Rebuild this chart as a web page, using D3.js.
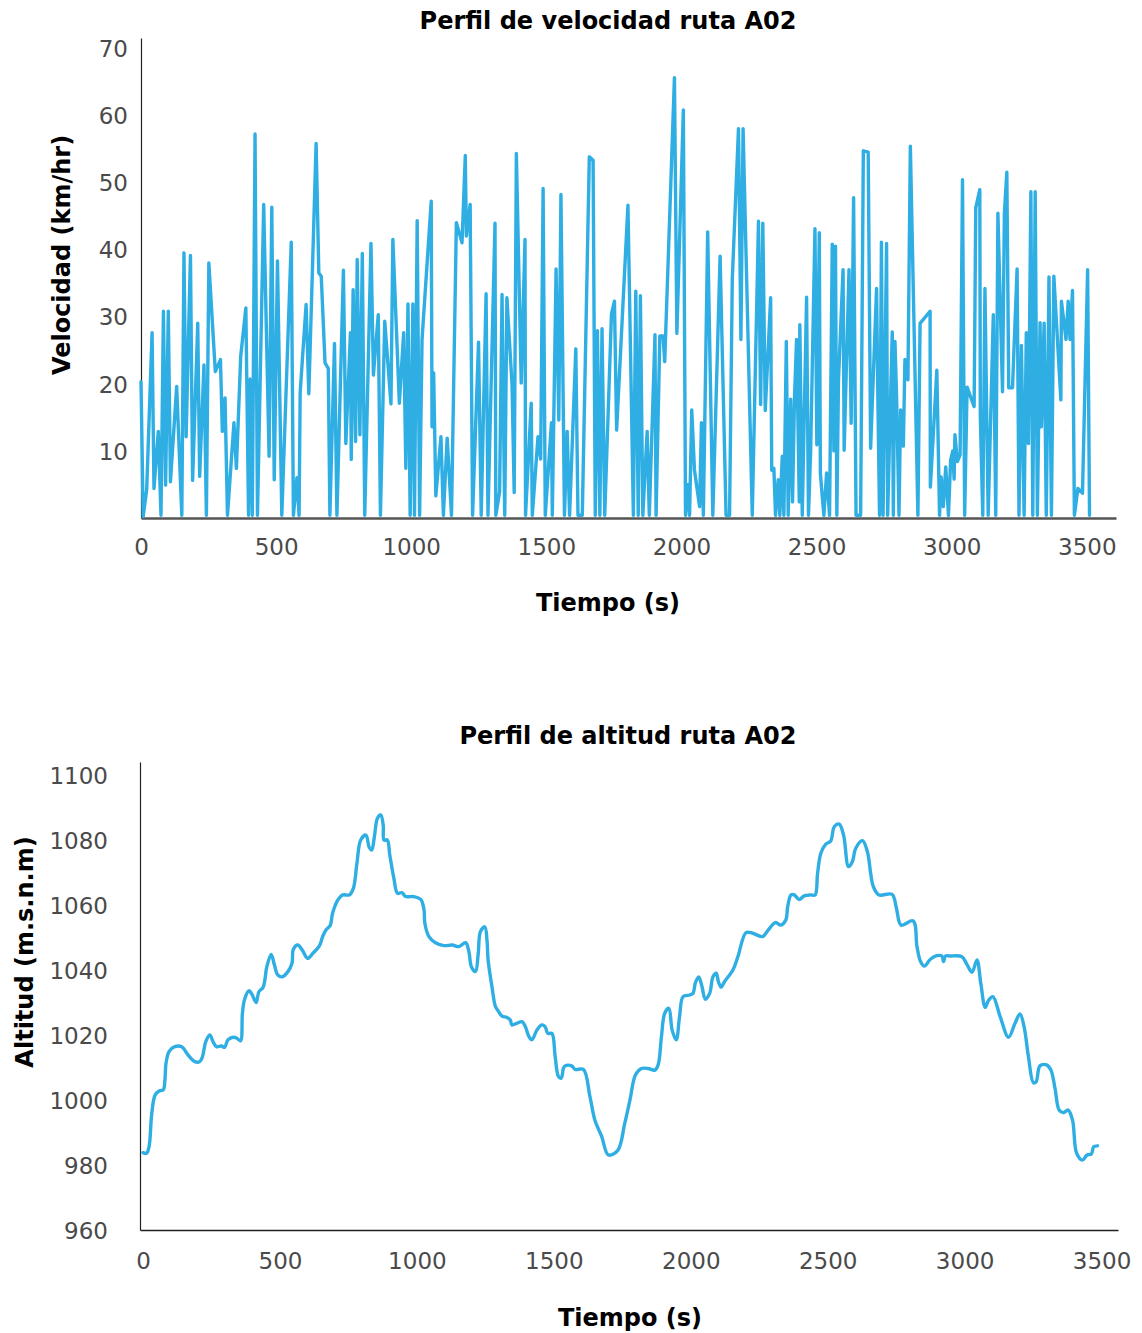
<!DOCTYPE html>
<html>
<head>
<meta charset="utf-8">
<script src="https://cdn.jsdelivr.net/npm/d3@7/dist/d3.min.js"></script>
<style>
  html, body { margin: 0; padding: 0; background: #ffffff; }
  svg { display: block; }
  text { font-family: "DejaVu Sans", "Open Sans", sans-serif; }
</style>
</head>
<body>
<svg id="chart" width="1142" height="1333"></svg>
<script>
// ---- Speed profile, route A02 ----
const speedTime = [0,8,21,41,48,64,74,83,91,101,109,132,151,159,167,183,191,210,217,233,242,251,275,294,301,311,320,344,353,369,388,398,404,412,422,431,454,474,484,493,505,521,556,564,577,585,589,611,621,648,658,667,681,693,699,716,725,749,758,775,778,785,794,800,810,819,828,851,860,878,886,902,925,932,956,972,980,988,996,1006,1012,1022,1031,1040,1074,1077,1083,1091,1110,1119,1133,1149,1167,1188,1200,1204,1218,1227,1249,1259,1277,1284,1310,1313,1327,1336,1346,1354,1373,1381,1389,1407,1421,1423,1444,1448,1469,1479,1488,1496,1519,1522,1536,1546,1554,1567,1577,1586,1609,1617,1633,1659,1673,1681,1689,1698,1706,1716,1741,1752,1760,1802,1822,1831,1840,1848,1857,1873,1881,1902,1906,1920,1932,1938,1974,1983,2007,2015,2024,2030,2038,2048,2067,2074,2081,2097,2116,2143,2165,2178,2188,2211,2220,2228,2262,2285,2293,2301,2310,2330,2334,2342,2348,2358,2364,2373,2379,2388,2395,2404,2411,2418,2426,2436,2438,2447,2463,2470,2478,2494,2501,2510,2514,2520,2527,2537,2548,2558,2564,2570,2575,2581,2598,2602,2620,2628,2637,2646,2663,2673,2691,2700,2722,2727,2733,2740,2746,2759,2763,2780,2784,2790,2796,2805,2811,2821,2827,2838,2847,2875,2883,2920,2921,2945,2955,2961,2969,2978,2988,2996,3004,3009,3012,3021,3031,3040,3048,3057,3083,3089,3104,3106,3115,3123,3135,3154,3163,3171,3188,3195,3204,3211,3225,3242,3249,3258,3268,3276,3284,3293,3300,3309,3317,3327,3332,3342,3350,3360,3369,3378,3404,3406,3423,3431,3438,3447,3454,3467,3484,3503,3510];
const speedKmh = [20.3,0.2,4.2,27.6,4.4,12.9,0.4,30.8,4.9,30.8,5.4,19.6,0.4,39.5,12.1,39.1,5.6,29,6.2,22.8,0.4,38,21.8,23.6,12.9,17.9,0.4,14.2,7.4,24.1,31.3,0.4,20.7,0.4,57.2,0.4,46.7,9.2,46.3,5.7,38.3,0.4,41.1,0.4,6,0.4,18.7,31.8,18.5,55.8,36.5,36,23.1,22.3,0.4,26,0.4,36.9,11.1,27.6,8.7,34,11.4,38.5,12.4,39.4,0.4,40.9,21.3,30.3,0.4,29.3,17,41.5,17.1,27.6,7.4,31.9,0.4,31.9,0.4,44.3,0.4,26.6,47.2,13.6,21.6,3.3,12.1,0.4,11.9,0.4,44,41,54,42,46.7,0.4,26.2,0.4,33.4,0.4,43.9,0.4,3.9,33.3,0.4,32.8,19.9,3.8,54.3,20.1,41.5,0.4,17.1,0.4,12.1,8.8,49.1,0.4,14.2,0.4,37.1,14.6,48.2,0.4,12.9,0.4,25.2,0.4,0.4,53.8,53.3,0.4,27.9,0.4,28.2,0.4,30.4,32.3,13.1,46.6,0.4,33.8,0.4,33.1,0.4,12.9,0.4,27.3,0.4,27.1,27.1,23.3,65.6,27.5,60.8,0.4,5,0.4,16.1,7.2,1.7,14.2,0.4,42.6,0.4,39,0.4,0.4,35.5,58,26.6,58,0.4,44.2,16.9,43.9,16,32.8,7.1,7.4,0.4,5.7,0.4,9.2,0.4,26.3,0.4,17.7,2.4,17.6,26.6,2.4,28.8,0.4,32.9,0.4,9.9,43.1,10.9,42.5,6.7,3.7,0.4,6.7,0.4,40.8,10,40.5,0.4,20.5,37,10.1,37,14.1,47.7,0.4,0.4,54.7,54.5,10.4,34.2,17.1,0.4,41.1,0.4,40.9,0.4,27.7,0.4,26.3,18.2,0.4,16.1,10.7,23.6,20.6,55.4,0.4,29,30.8,4.6,22,0.4,6.1,1.7,7.6,0.4,8.6,10,5.8,12.4,8.4,9.4,50.4,0.4,19.5,16.6,46.2,48.9,14.9,0.4,34.2,0.4,30.3,0.4,45.4,18.8,45.4,51.5,19.4,19.4,37.1,0.4,25.7,0.4,27.6,11.1,48.6,0.4,48.6,0.4,29.1,13.6,29,0.4,35.9,0.4,36,17.6,32.3,26.6,32.3,26.6,33.9,0.4,4.4,3.7,37,0.4];
const speedTicksY = [10, 20, 30, 40, 50, 60, 70];

// ---- Altitude profile, route A02 ----
const altTime = [0,13,22,32,44,59,74,80,84,95,116,141,165,189,207,217,229,244,256,268,286,298,310,329,343,356,363,371,387,399,413,423,438,444,452,468,480,492,508,529,544,549,565,581,601,620,644,656,668,684,692,711,729,753,768,781,795,814,826,835,844,856,868,877,880,892,901,916,929,945,959,989,1014,1026,1029,1044,1068,1099,1129,1153,1178,1190,1199,1214,1224,1232,1248,1256,1260,1274,1287,1296,1311,1329,1341,1347,1365,1384,1396,1408,1420,1438,1456,1468,1478,1493,1505,1517,1527,1535,1541,1565,1578,1608,1632,1650,1675,1699,1733,1759,1778,1798,1820,1844,1869,1881,1893,1905,1920,1932,1947,1959,1972,1996,2008,2017,2029,2041,2053,2069,2081,2093,2101,2111,2123,2154,2172,2202,2226,2263,2281,2309,2329,2347,2354,2366,2378,2396,2414,2438,2454,2463,2475,2493,2511,2524,2542,2558,2576,2590,2602,2627,2645,2657,2666,2687,2735,2751,2768,2812,2826,2839,2853,2875,2899,2917,2923,2930,2948,2990,3008,3027,3045,3059,3075,3087,3103,3130,3160,3184,3202,3217,3233,3251,3261,3275,3299,3315,3330,3345,3360,3378,3394,3409,3430,3447,3463,3471,3485];
const altMeters = [983.8,983.6,985.6,995.9,1001.5,1002.8,1003.1,1006.2,1011.3,1014.9,1016.4,1016.4,1013.8,1011.8,1011.8,1013.3,1017.9,1020,1017.9,1016.4,1016.6,1016.2,1018.5,1019.3,1019,1018.2,1026.7,1031,1033.6,1032.3,1030,1033.3,1034.6,1036.4,1041,1044.8,1041.5,1038.5,1037.9,1039.5,1042.1,1046.4,1047.7,1046.2,1043.6,1045.1,1047.4,1050.3,1052.3,1053.8,1057.4,1061.5,1063.1,1063.1,1065.1,1072.8,1080,1081.5,1077.7,1076.9,1080.5,1086.7,1087.7,1084.6,1080,1080,1075.4,1068.2,1063.6,1063.8,1062.6,1062.6,1061.7,1058.5,1054.4,1050.3,1048.4,1047.5,1047.7,1047.2,1048.4,1045.6,1041,1039.5,1045.1,1051.8,1053.3,1049.2,1043.1,1034.9,1028.7,1027.5,1025.8,1025.4,1024.6,1023.1,1023.6,1024.1,1022.6,1019.7,1018.5,1021.5,1023.1,1022.6,1020.5,1020.5,1013.3,1007.2,1006.7,1009.7,1010.5,1010.5,1009.4,1009.4,1001,993.8,988.7,983.1,984.4,992.8,1000,1007.7,1009.7,1009.7,1009.2,1010.8,1019.5,1026.7,1028.2,1021.5,1018.5,1025.6,1031.8,1032.3,1032.8,1036.1,1037.9,1034.9,1031,1032.8,1037.9,1039,1036.4,1034.7,1036.4,1040,1044.1,1051.5,1051.3,1050.3,1052.1,1054.6,1053.8,1055.4,1059.5,1063.1,1063.1,1061.7,1062.8,1063.1,1063.1,1069.7,1075.9,1078.7,1079.7,1084.1,1084.9,1081.5,1071.8,1073.3,1077.4,1079.8,1076.4,1069.7,1065.8,1063.1,1063.3,1059,1053.8,1055.1,1047.2,1042.6,1041.2,1043.3,1044.4,1044.3,1042.6,1044.3,1044.3,1044.1,1041.8,1039.3,1043.1,1035.9,1028.5,1030.6,1031.8,1025.6,1019.3,1023.6,1026.5,1022.6,1013.3,1005.3,1005.6,1010.5,1010.8,1009.2,1003.6,996.9,996.1,996.9,993.8,983.6,981.5,983.1,983.4,985.6,985.9];
const altTicksY = [960, 980, 1000, 1020, 1040, 1060, 1080, 1100];

const timeTicks = [0, 500, 1000, 1500, 2000, 2500, 3000, 3500];

const LINE = "#2faee4";
const svg = d3.select("#chart");

function drawPanel(cfg) {
  const g = svg.append("g");
  const x = d3.scaleLinear().domain(cfg.xDomain).range(cfg.xRange);
  const y = d3.scaleLinear().domain(cfg.yDomain).range(cfg.yRange);

  // y axis: labels only, plain vertical rule
  const yAxis = g.append("g")
    .attr("transform", `translate(${cfg.xRange[0]},0)`)
    .call(d3.axisLeft(y).tickValues(cfg.yTicks).tickSize(0).tickPadding(cfg.yPad).tickFormat(d3.format("d")));
  yAxis.select(".domain").attr("stroke", "#222").attr("stroke-width", 1.2);
  yAxis.selectAll("text").attr("fill", "#4a4a4a").style("font-size", "23px").attr("dy", "0.36em");

  // x axis
  const xAxis = g.append("g")
    .attr("transform", `translate(0,${cfg.yRange[0]})`)
    .call(d3.axisBottom(x).tickValues(timeTicks).tickSize(0).tickPadding(cfg.xPad).tickFormat(d3.format("d")));
  xAxis.select(".domain").attr("stroke", cfg.xAxisColor).attr("stroke-width", cfg.xAxisWidth);
  xAxis.selectAll("text").attr("fill", "#4a4a4a").style("font-size", "23px");

  // series
  const line = d3.line()
    .x((d, i) => x(cfg.t[i]))
    .y(d => y(d))
    .curve(cfg.curve);
  g.append("path")
    .datum(cfg.v)
    .attr("d", line)
    .attr("fill", "none")
    .attr("stroke", LINE)
    .attr("stroke-width", cfg.lineWidth)
    .attr("stroke-linejoin", "round")
    .attr("stroke-linecap", "round");

  // titles
  const bold = sel => sel.style("font-size", "24px").style("font-weight", 700).attr("fill", "#000");
  g.append("text")
    .attr("x", cfg.title[1]).attr("y", cfg.title[2])
    .attr("text-anchor", "middle")
    .call(bold)
    .text(cfg.title[0]);
  g.append("text")
    .attr("x", cfg.xTitle[1]).attr("y", cfg.xTitle[2])
    .attr("text-anchor", "middle")
    .call(bold)
    .text(cfg.xTitle[0]);
  g.append("text")
    .attr("transform", `translate(${cfg.yTitle[1]},${cfg.yTitle[2]}) rotate(-90)`)
    .attr("text-anchor", "middle")
    .call(bold)
    .text(cfg.yTitle[0]);
}

drawPanel({
  t: speedTime, v: speedKmh,
  xDomain: [0, 3608], xRange: [141, 1116],
  yDomain: [0, 71.5], yRange: [518, 38],
  yTicks: speedTicksY, yPad: 13, xPad: 21,
  xAxisColor: "#555", xAxisWidth: 2.5,
  lineWidth: 3.4, curve: d3.curveLinear,
  title: ["Perfil de velocidad ruta A02", 608, 29],
  xTitle: ["Tiempo (s)", 608, 611],
  yTitle: ["Velocidad (km/hr)", 70, 255]
});

drawPanel({
  t: altTime, v: altMeters,
  xDomain: [-11, 3560], xRange: [140, 1118],
  yDomain: [960, 1104], yRange: [1230, 762],
  yTicks: altTicksY, yPad: 32, xPad: 23,
  xAxisColor: "#222", xAxisWidth: 1.5,
  lineWidth: 3.4, curve: d3.curveCatmullRom.alpha(0.5),
  title: ["Perfil de altitud ruta A02", 628, 744],
  xTitle: ["Tiempo (s)", 630, 1326],
  yTitle: ["Altitud (m.s.n.m)", 33, 952]
});
</script>
</body>
</html>
